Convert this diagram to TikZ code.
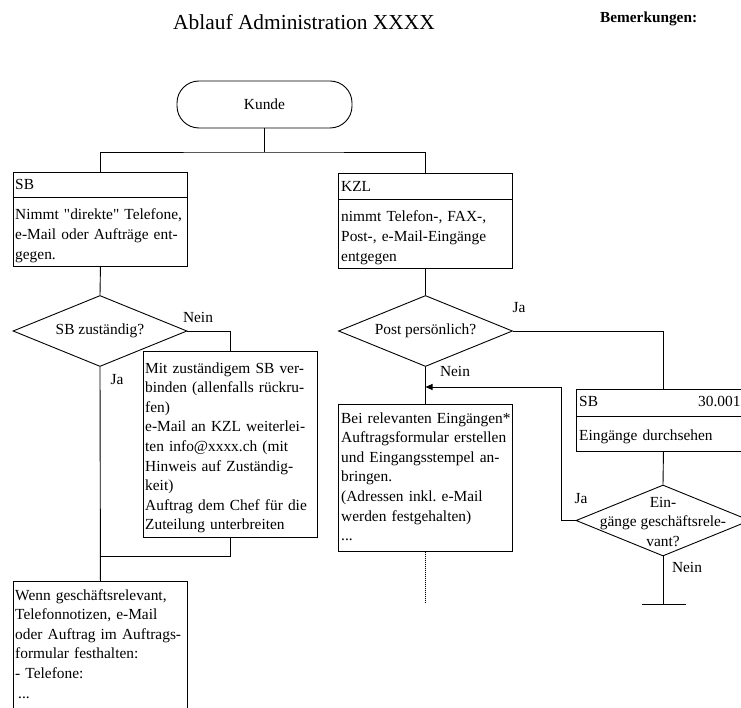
\documentclass[tikz,border=0pt]{standalone}
\usepackage{fontspec}
\setmainfont{Liberation Serif}[Ligatures=TeXOff]
\usetikzlibrary{shapes.geometric,arrows.meta}
\frenchspacing
\begin{document}
\begin{tikzpicture}[x=1pt,y=-1pt,
  every node/.style={font=\fontsize{15.4}{19.6}\selectfont},
  line/.style={draw, line width=0.9pt},
  boxnode/.style={draw, line width=0.9pt, rectangle, inner sep=0pt, anchor=north west, minimum width=#1},
  boxnode/.default=174pt,
  dia/.style={draw, line width=0.9pt, diamond, inner sep=0pt, minimum width=174pt, minimum height=71pt},
  txt/.style={anchor=base west, inner sep=0pt, text width=230pt, align=left},
  lbl/.style={inner sep=0pt, anchor=center},
  tip/.style={-{Triangle[length=7pt,width=6pt]}}
]
\path[use as bounding box] (0,0) rectangle (741,708);
\clip (0,0) rectangle (741,708);

% title
\node[anchor=base, inner sep=0pt, font=\fontsize{21.4}{25}\selectfont] (title) at (304,30) {Ablauf Administration XXXX};
\node[anchor=base west, inner sep=0pt, font=\bfseries\fontsize{15.3}{18}\selectfont] (bem) at (600,23) {Bemerkungen:};

% start
\node[draw, line width=0.9pt, rounded corners=22pt, minimum width=175pt, minimum height=47pt, inner sep=0pt] (kunde) at (264.5,104.5) {Kunde};
\coordinate (split) at (264.5,152);

% SB column
\node[boxnode, minimum height=25pt] (sbh) at (13,172) {};
\node[boxnode, minimum height=69pt] (sbb) at (13,197) {};
\node[txt] (sbht) at (15,190) {SB};
\node[txt] (sbbt) at (15,220) {Nimmt "direkte" Telefone,\\e-Mail oder Aufträge ent-\\gegen.};

\node[dia] (d1) at (100,331) {};
\node[lbl] (d1t) at (100,331) {SB zuständig?};

\node[boxnode, minimum height=186pt] (box2) at (143,351) {};
\node[txt] (box2t) at (145,373) {Mit zuständigem SB ver-\\binden (allenfalls rückru-\\fen)\\e-Mail an KZL weiterlei-\\ten info@xxxx.ch (mit\\Hinweis auf Zuständig-\\keit)\\Auftrag dem Chef für die\\Zuteilung unterbreiten};

\coordinate (m1) at (100,556);
\node[boxnode, minimum height=150pt] (bot) at (13,581) {};
\node[txt] (bott) at (15,600) {Wenn geschäftsrelevant,\\Telefonnotizen, e-Mail\\oder Auftrag im Auftrags-\\formular festhalten:\\- Telefone:\\\hspace*{3pt}...};

\node[lbl] (ja1) at (117,380) {Ja};
\node[lbl] (nein1) at (198,317) {Nein};

% KZL column
\node[boxnode, minimum height=26pt] (kzlh) at (338,173) {};
\node[boxnode, minimum height=69pt] (kzlb) at (338,199) {};
\node[txt] (kzlht) at (341,192) {KZL};
\node[txt] (kzlbt) at (341,222) {nimmt Telefon-, FAX-,\\Post-, e-Mail-Eingänge\\entgegen};

\node[dia] (d2) at (425.5,331) {};
\node[lbl] (d2t) at (425.5,331) {Post persönlich?};
\node[lbl] (ja2) at (519,308) {Ja};
\node[lbl] (nein2) at (455,371) {Nein};

\node[boxnode, minimum height=147pt] (bei) at (338,404) {};
\node[txt] (beit) at (341,423) {Bei relevanten Eingängen*\\Auftragsformular erstellen\\und Eingangsstempel an-\\bringen.\\(Adressen inkl. e-Mail\\werden festgehalten)\\...};
\coordinate (ar) at (425.5,387);
\coordinate (dotend) at (425.5,603);

% SB right
\node[boxnode, minimum height=27pt] (sb2h) at (576,389) {};
\node[boxnode, minimum height=35pt] (sb2b) at (576,416) {};
\node[txt] (sb2ht) at (579,406) {SB};
\node[anchor=base west, inner sep=0pt] (num) at (698,406) {30.001};
\node[txt] (sb2bt) at (579,440) {Eingänge durchsehen};

\node[dia] (d3) at (663,520.5) {};
\node[lbl, align=center] (d3t) at (663,522) {Ein-\\gänge geschäftsrele-\\vant?};
\node[lbl] (ja3) at (581,499) {Ja};
\node[lbl] (nein3) at (687,567) {Nein};
\coordinate (c1) at (561,520.5);
\coordinate (endc) at (663,604);
\coordinate (barl) at (642,604);
\coordinate (barr) at (686,604);

% connectors
\draw[line] (kunde.south) -- (split);
\draw[line] (sbh.north) |- (split) -| (kzlh.north);
\draw[line] (sbb.south) -- (d1.north);
\draw[line] (d1.east) -| (box2.north);
\draw[line] (d1.south) -- (bot.north);
\draw[line] (box2.south) |- (m1);

\draw[line] (kzlb.south) -- (d2.north);
\draw[line] (d2.south) -- (bei.north);
\draw[line] (d2.east) -| (sb2h.north);
\draw[line, dash pattern=on 1pt off 1pt] (bei.south) -- (dotend);

\draw[line] (sb2b.south) -- (d3.north);
\draw[line, tip] (d3.west) -- (c1) |- (ar);
\draw[line] (d3.south) -- (endc);
\draw[line] (barl) -- (barr);
\end{tikzpicture}
\end{document}
